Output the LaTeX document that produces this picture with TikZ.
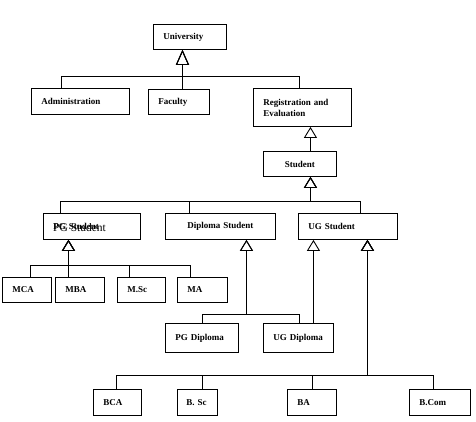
\documentclass[tikz,border=0pt]{standalone}
\usepackage{fontspec}
\setmainfont{Liberation Serif}
\usetikzlibrary{arrows.meta}
\begin{document}
\begin{tikzpicture}[x=1pt,y=-1pt,
 box/.style={draw, line width=0.9pt, anchor=north west, inner xsep=10pt, inner ysep=0pt, font=\bfseries\fontsize{9}{11}\selectfont, align=left},
 cbox/.style={box, align=center},
 inh/.style={line width=0.9pt, -{Triangle[open,length=11pt,width=13pt,line width=0.9pt]}},
 inhbig/.style={line width=0.9pt, -{Triangle[open,length=15pt,width=13pt,line width=0.9pt]}}]
\useasboundingbox (0,0) rectangle (476,421);
% nodes
\node[box, text width=53pt, minimum height=25pt] (univ) at (153,24) {University};
\node[box, text width=78pt, minimum height=26pt] (adm) at (31,88) {Administration};
\node[box, text width=41pt, minimum height=25pt] (fac) at (148,89) {Faculty};
\node[box, text width=78pt, minimum height=38pt] (reg) at (253,88) {Registration and\\Evaluation};
\node[cbox, text width=53pt, minimum height=25pt] (stud) at (263,151) {Student};
\node[box, text width=77pt, minimum height=26pt] (pg) at (43,213) {PG Student};
\node[anchor=west, inner sep=0pt, font=\fontsize{11.5}{12}\selectfont] (pgov) at (53,227.5) {PG Student};
\node[cbox, text width=90pt, minimum height=26pt] (dip) at (165,213) {Diploma Student};
\node[box, text width=79pt, minimum height=26pt] (ug) at (298,213) {UG Student};
\node[box, text width=29pt, minimum height=25pt] (mca) at (2,277) {MCA};
\node[box, text width=29pt, minimum height=25pt] (mba) at (55,277) {MBA};
\node[box, text width=28pt, minimum height=25pt] (msc) at (117,277) {M.Sc};
\node[box, text width=30pt, minimum height=25pt] (ma) at (177,277) {MA};
\node[box, text width=53pt, minimum height=29pt] (pgd) at (165,323) {PG Diploma};
\node[box, text width=50pt, minimum height=29pt] (ugd) at (263,323) {UG Diploma};
\node[box, text width=28pt, minimum height=26pt] (bca) at (93,389) {BCA};
\node[box, text width=22pt, inner xsep=9pt, minimum height=26pt] (bsc) at (177,389) {B. Sc};
\node[box, text width=29pt, minimum height=26pt] (ba) at (287,389) {BA};
\node[box, text width=41pt, minimum height=26pt] (bcom) at (409,389) {B.Com};
% attachment points
\coordinate (uIn) at ([xshift=-7.5pt]univ.south);
\coordinate (uBar) at ([yshift=-27pt]uIn);
\coordinate (rIn) at ([xshift=8pt]reg.south);
\coordinate (sIn) at ([xshift=10.5pt]stud.south);
\coordinate (sBar) at ([yshift=-25pt]sIn);
\coordinate (pIn) at ([xshift=-23.5pt]pg.south);
\coordinate (pBar) at ([yshift=-26pt]pIn);
\coordinate (dIn) at ([xshift=26pt]dip.south);
\coordinate (dBar) at ([yshift=-75pt]dIn);
\coordinate (gIn1) at ([xshift=-34.5pt]ug.south);
\coordinate (gIn2) at ([xshift=19.5pt]ug.south);
\coordinate (gBar) at ([yshift=-136pt]gIn2);
% connectors
\draw[inhbig] ([xshift=-19pt]adm.north) |- (uBar) -- (uIn);
\draw[inhbig] (fac.north -| uIn) -- (uIn);
\draw[inhbig] ([xshift=-3pt]reg.north) |- (uBar) -- (uIn);
\draw[inh] (stud.north -| rIn) -- (rIn);
\draw[inh] ([xshift=-31.5pt]pg.north) |- (sBar) -- (sIn);
\draw[inh] ([xshift=-31pt]dip.north) |- (sBar) -- (sIn);
\draw[inh] ([xshift=12.5pt]ug.north) |- (sBar) -- (sIn);
\draw[inh] ([xshift=3.5pt]mca.north) |- (pBar) -- (pIn);
\draw[inh] (mba.north -| pIn) -- (pIn);
\draw[inh] ([xshift=-12pt]msc.north) |- (pBar) -- (pIn);
\draw[inh] ([xshift=-12pt]ma.north) |- (pBar) -- (pIn);
\draw[inh] (pgd.north) |- (dBar) -- (dIn);
\draw[inh] ([xshift=1pt]ugd.north) |- (dBar) -- (dIn);
\draw[inh] (ugd.north -| gIn1) -- (gIn1);
\draw[inh] ([xshift=-1pt]bca.north) |- (gBar) -- (gIn2);
\draw[inh] ([xshift=5pt]bsc.north) |- (gBar) -- (gIn2);
\draw[inh] (ba.north) |- (gBar) -- (gIn2);
\draw[inh] ([xshift=-6.5pt]bcom.north) |- (gBar) -- (gIn2);
\end{tikzpicture}
\end{document}
